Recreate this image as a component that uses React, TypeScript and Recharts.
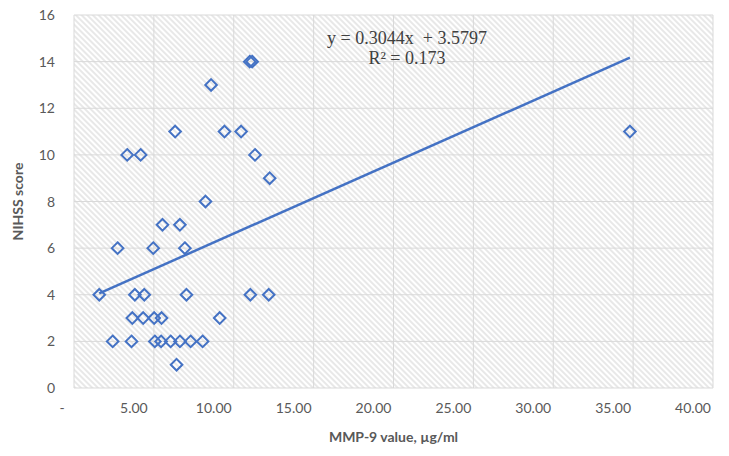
import React from 'react';
import { ScatterChart, Scatter, XAxis, YAxis, CartesianGrid, ReferenceLine } from 'recharts';

// MMP-9 value (µg/ml) and NIHSS score per patient
const mmp9Values = [
  11.0, 11.15,
  8.58,
  6.33, 9.42, 10.46, 34.8,
  3.33, 4.17, 11.33,
  12.25,
  8.23,
  5.54, 6.63,
  2.73, 4.96, 6.94,
  1.58, 3.81, 4.4, 7.04, 11.04, 12.19,
  3.65, 4.33, 5.02, 5.48, 9.12,
  2.42, 3.6, 5.06, 5.45, 6.05, 6.63, 7.3, 8.05,
  6.42,
];
const nihssScores = [
  14, 14,
  13,
  11, 11, 11, 11,
  10, 10, 10,
  9,
  8,
  7, 7,
  6, 6, 6,
  4, 4, 4, 4, 4, 4,
  3, 3, 3, 3, 3,
  2, 2, 2, 2, 2, 2, 2, 2,
  1,
];
const xTicks = [0, 5, 10, 15, 20, 25, 30, 35, 40];
const yTicks = [0, 2, 4, 6, 8, 10, 12, 14, 16];
const trendSlope = 0.3044;
const trendIntercept = 3.5797;
const equationText = 'y = 0.3044x  + 3.5797';
const r2Text = 'R² = 0.173';
const xTitle = 'MMP-9 value, µg/ml';
const yTitle = 'NIHSS score';

const points = mmp9Values.map((x, i) => ({ x, y: nihssScores[i] }));
const xMin = Math.min(...mmp9Values);
const xMax = Math.max(...mmp9Values);

const BLUE = '#4472C4';
const GRAY_TEXT = '#595959';
const SANS = 'Lato, "Open Sans", sans-serif';

const Diamond = (props: any) => {
  const { cx, cy } = props;
  const r = 5.8;
  return (
    <path
      d={`M${cx},${cy - r} L${cx + r},${cy} L${cx},${cy + r} L${cx - r},${cy} Z`}
      fill="none"
      stroke={BLUE}
      strokeWidth={2}
    />
  );
};

const XTick = (props: any) => {
  const { x, y, payload } = props;
  const v = payload.value as number;
  const label = v === 0 ? '-' : v.toFixed(2);
  const shift = v === 0 ? -12 : -20;
  return (
    <text x={x + shift} y={y + 25} textAnchor="middle" fontFamily={SANS} fontSize={14} fill={GRAY_TEXT}>
      {label}
    </text>
  );
};

const YTick = (props: any) => {
  const { x, y, payload } = props;
  return (
    <text x={x - 19} y={y + 5} textAnchor="end" fontFamily={SANS} fontSize={14} fill={GRAY_TEXT}>
      {payload.value}
    </text>
  );
};

export default function App() {
  return (
    <div style={{ position: 'absolute', left: 0, top: 0, width: 729, height: 456, background: '#fff' }}>
      <svg width={0} height={0} style={{ position: 'absolute' }}>
        <defs>
          <pattern id="hatch" width={4} height={4} patternUnits="userSpaceOnUse" patternTransform="rotate(45)">
            <rect width={4} height={4} fill="#ffffff" />
            <line x1={0} y1={1} x2={4} y2={1} stroke="#dcdcdc" strokeWidth={1.3} />
          </pattern>
        </defs>
      </svg>
      <ScatterChart width={729} height={456} margin={{ top: 15, right: 16, bottom: 0, left: 0 }}>
        <CartesianGrid fill="url(#hatch)" stroke="#d9d9d9" strokeWidth={1} />
        <XAxis
          type="number"
          dataKey="x"
          domain={[0, 40]}
          ticks={xTicks}
          interval={0}
          height={68}
          tickLine={false}
          axisLine={false}
          tickSize={0}
          tickMargin={0}
          tick={<XTick />}
          label={{
            content: (p: any) => {
              const vb = p.viewBox;
              return (
                <text x={vb.x + vb.width / 2} y={vb.y + 54} textAnchor="middle" fontFamily={SANS} fontWeight="bold" fontSize={14} fill={GRAY_TEXT}>
                  {xTitle}
                </text>
              );
            },
          }}
        />
        <YAxis
          type="number"
          dataKey="y"
          domain={[0, 16]}
          ticks={yTicks}
          interval={0}
          width={74}
          tickLine={false}
          axisLine={false}
          tickSize={0}
          tickMargin={0}
          tick={<YTick />}
          label={{
            content: (p: any) => {
              const vb = p.viewBox;
              const cx = 23;
              const cy = vb.y + vb.height / 2;
              return (
                <text x={cx} y={cy} textAnchor="middle" transform={`rotate(-90, ${cx}, ${cy})`} fontFamily={SANS} fontWeight="bold" fontSize={14} fill={GRAY_TEXT}>
                  {yTitle}
                </text>
              );
            },
          }}
        />
        <ReferenceLine
          segment={[
            { x: xMin, y: trendSlope * xMin + trendIntercept },
            { x: xMax, y: trendSlope * xMax + trendIntercept },
          ]}
          stroke={BLUE}
          strokeWidth={2.5}
          ifOverflow="visible"
        />
        <Scatter data={points} shape={<Diamond />} isAnimationActive={false} />
        <text x={407} y={44} textAnchor="middle" fontFamily='"Liberation Serif", serif' fontSize={18} fill="#404040" style={{ whiteSpace: 'pre' }}>
          {equationText}
        </text>
        <text x={407} y={64} textAnchor="middle" fontFamily='"Liberation Serif", serif' fontSize={18} fill="#404040">
          {r2Text}
        </text>
      </ScatterChart>
    </div>
  );
}
